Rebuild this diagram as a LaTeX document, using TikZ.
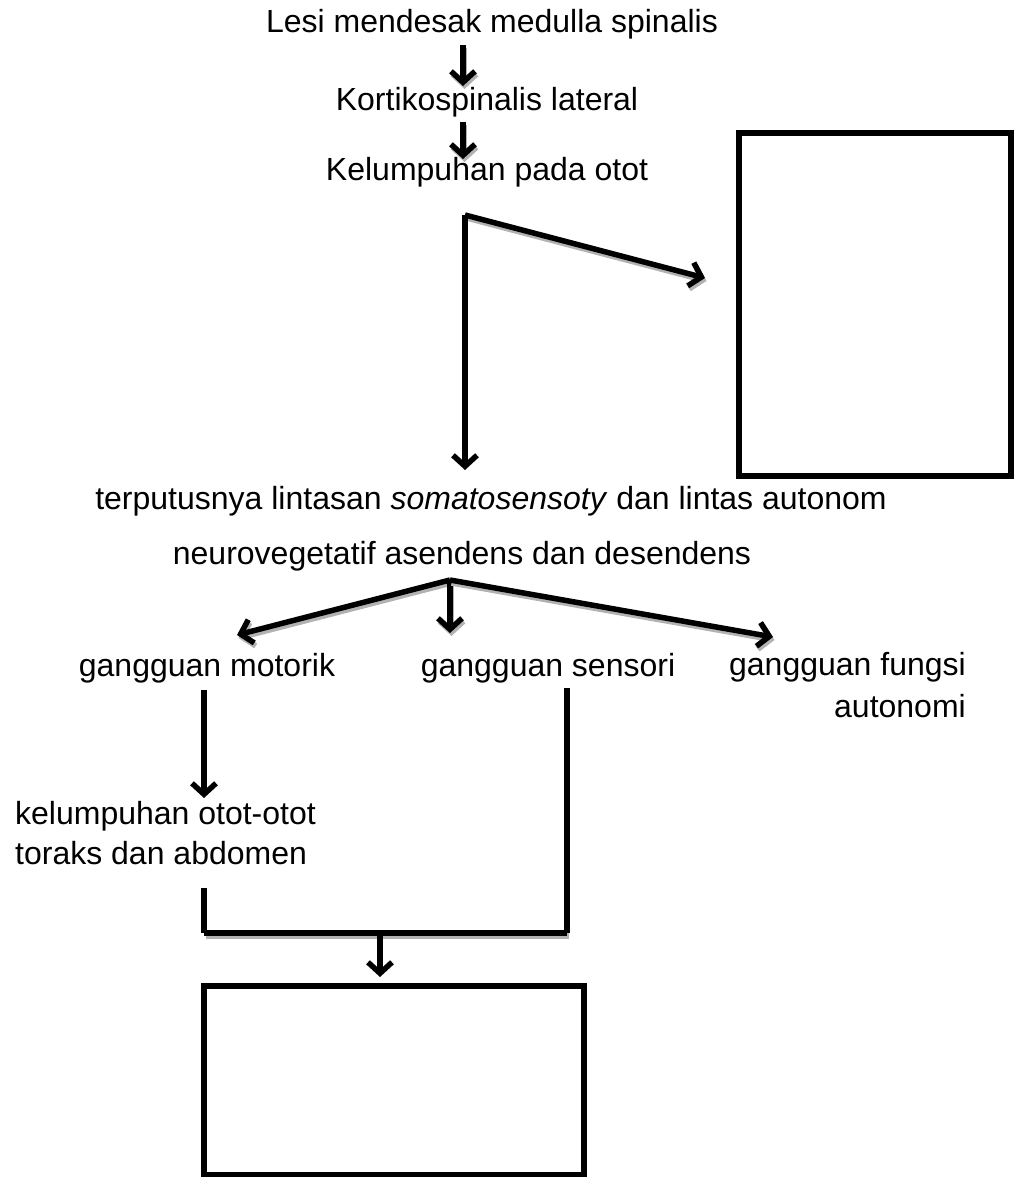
\documentclass[tikz,border=0pt]{standalone}
\usepackage{fontspec}
\setmainfont{Liberation Sans}
\usetikzlibrary{arrows.meta}
\begin{document}
\begin{tikzpicture}[x=1pt,y=-1pt,
  txt/.style={font=\fontsize{32}{40}\selectfont, inner sep=0pt, anchor=base},
  ln/.style={line width=5.5pt},
  arr/.style={ln, -{Straight Barb[length=11pt,width=24pt]}},
  shad/.style={preaction={draw=gray!60, line width=5.5pt, transform canvas={shift={(1.5pt,-3pt)}}}},
  boxn/.style={draw, line width=5.5pt, inner sep=0pt}
]
\useasboundingbox (0,0) rectangle (1018,1177);
% texts
\node[txt] (t1) at (492,33) {Lesi mendesak medulla spinalis};
\node[txt] (t2) at (487,111) {Kortikospinalis lateral};
\node[txt] (t3) at (487,181) {Kelumpuhan pada otot};
\node[txt] (t4) at (491,509) {terputusnya lintasan \textit{somatosensoty} dan lintas autonom};
\node[txt] (t5) at (462,564) {neurovegetatif asendens dan desendens};
\node[txt] (g1) at (207,676) {gangguan motorik};
\node[txt] (g2) at (548,676) {gangguan sensori};
\node[txt, anchor=base east, align=right] (g3) at (966,717) {gangguan fungsi\\[2pt]autonomi};
\node[txt, anchor=base west, align=left] (k1) at (15,864) {kelumpuhan otot-otot\\toraks dan abdomen};
% boxes
\node[boxn, minimum width=272pt, minimum height=343pt] (bx1) at (875,304.5) {};
\node[boxn, minimum width=380pt, minimum height=189pt] (bx2) at (394,1080.5) {};
% coordinates
\coordinate (a1s) at (463,45);
\coordinate (a1e) at (463,86);
\coordinate (a2s) at (463,122);
\coordinate (a2e) at (463,159);
\coordinate (k) at (465,215);
\coordinate (kd) at (465,470);
\coordinate (kr) at (705,278);
\coordinate (b) at (450,580);
\coordinate (bl) at (237,635);
\coordinate (bm) at (450,633);
\coordinate (br) at (773,637);
\coordinate (m1) at (204,690);
\coordinate (m2) at (204,798);
\coordinate (s1) at (567,688);
\coordinate (s2) at (567,933);
\coordinate (j) at (380,933);
\coordinate (jl) at (204,933);
\coordinate (m3) at (204,888);
\coordinate (je) at (380,977);
% connectors
\draw[arr, shad] (a1s) -- (a1e);
\draw[arr, shad] (a2s) -- (a2e);
\draw[arr, shad] (k) -- (kr);
\draw[arr] (k) -- (kd);
\draw[arr, shad] (b) -- (bl);
\draw[arr, shad] (b) -- (bm);
\draw[arr, shad] (b) -- (br);
\draw[arr] (m1) -- (m2);
\draw[ln] (s1) -- (s2);
\draw[ln, shad] (s2) -- (jl);
\draw[ln] (jl) -- (m3);
\draw[arr] (j) -- (je);
\end{tikzpicture}
\end{document}
